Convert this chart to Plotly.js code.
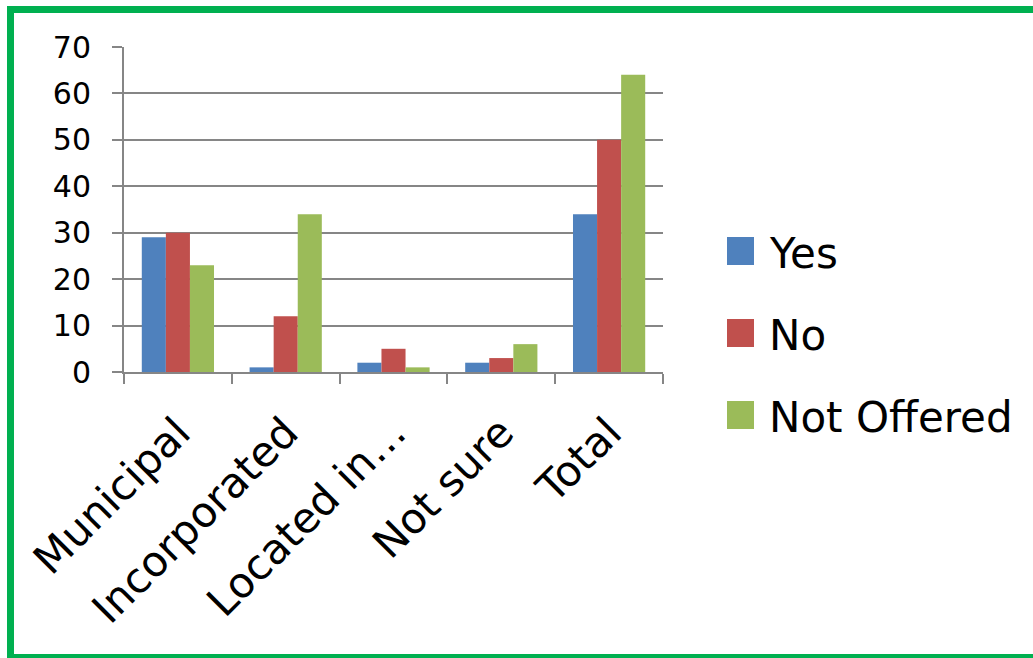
<!DOCTYPE html>
<html>
<head>
<meta charset="utf-8">
<script src="https://cdn.plot.ly/plotly-3.0.1.min.js"></script>
<style>
  html, body { margin: 0; padding: 0; background: #fff; overflow: hidden; }
  #chart { position: absolute; left: 0; top: 0; width: 1033px; height: 658px; }
  #frame { position: absolute; left: 7px; top: 6px; width: 1100px; height: 655px; box-sizing: border-box;
           border: 7px solid #00B050; pointer-events: none; }
</style>
</head>
<body>
<div id="chart"></div>
<div id="frame"></div>
<script>
const categories = ["Municipal", "Incorporated", "Located in\u2026", "Not sure", "Total"];
const seriesNames = ["Yes", "No", "Not Offered"];
const yesValues = [29, 1, 2, 2, 34];
const noValues = [30, 12, 5, 3, 50];
const notOfferedValues = [23, 34, 1, 6, 64];
const seriesColors = ["#4F81BD", "#C0504D", "#9BBB59"];
const yTicks = [0, 10, 20, 30, 40, 50, 60, 70];

const seriesValues = [yesValues, noValues, notOfferedValues];
const FONT = "DejaVu Sans, Arial, sans-serif";

const traces = seriesValues.map((vals, i) => ({
  type: "bar",
  name: seriesNames[i],
  x: categories,
  y: vals,
  marker: { color: seriesColors[i], line: { width: 0 } },
  showlegend: false,
  hoverinfo: "x+y+name"
}));

// Manual legend (large square swatches like the original)
const legendY = [251, 333, 415];   // pixel centres
const H = 658, mt = 47, mb = 286, plotH = H - mt - mb;
const pyToPaper = py => 1 - (py - mt) / plotH;
const mlft = 124, mr = 370, plotW = 1033 - mlft - mr;
const pxToPaper = px => (px - mlft) / plotW;

const shapes = [], annotations = [];
seriesNames.forEach((n, i) => {
  shapes.push({
    type: "rect", xref: "paper", yref: "paper",
    x0: pxToPaper(727), x1: pxToPaper(754),
    y0: pyToPaper(legendY[i] - 14), y1: pyToPaper(legendY[i] + 14),
    fillcolor: seriesColors[i], line: { width: 0 }
  });
  annotations.push({
    xref: "paper", yref: "paper",
    x: pxToPaper(767), y: pyToPaper(legendY[i] + 2),
    xanchor: "left", yanchor: "middle",
    text: n, showarrow: false,
    font: { family: FONT, size: 42, color: "#000" }
  });
});

const layout = {
  width: 1033, height: 658,
  margin: { l: mlft, r: mr, t: mt, b: mb, pad: 0 },
  paper_bgcolor: "#fff", plot_bgcolor: "#fff",
  barmode: "group",
  bargap: 0.33, bargroupgap: 0,
  showlegend: false,
  font: { family: FONT, color: "#000" },
  xaxis: {
    type: "category",
    tickangle: -45,
    tickson: "boundaries",
    ticks: "outside", ticklen: 10, tickwidth: 2, tickcolor: "#868686",
    showline: true, linecolor: "#868686", linewidth: 2,
    showgrid: false, zeroline: false,
    tickfont: { family: FONT, size: 42, color: "#000" },
    ticklabelstandoff: 17
  },
  yaxis: {
    range: [0, 70],
    tickvals: yTicks,
    ticktext: yTicks.map(String),
    ticks: "outside", ticklen: 10, tickwidth: 2, tickcolor: "#868686",
    showline: true, linecolor: "#868686", linewidth: 2,
    showgrid: true, gridcolor: "#868686", gridwidth: 2,
    zeroline: false,
    tickfont: { family: FONT, size: 30, color: "#000" },
    ticklabelstandoff: 15
  },
  shapes: shapes,
  annotations: annotations
};

Plotly.newPlot("chart", traces, layout, { displayModeBar: false, staticPlot: true });
</script>
</body>
</html>
